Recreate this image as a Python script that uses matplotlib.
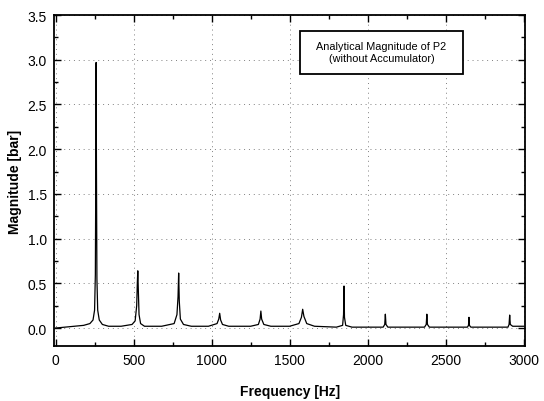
import matplotlib.pyplot as plt
from matplotlib.patches import Rectangle
from matplotlib.ticker import MultipleLocator

# harmonic peaks
PEAK_FREQ = [260, 527, 789, 1052, 1316, 1584, 1849, 2114, 2380, 2650, 2911]
PEAK_MAG = [2.97, 0.64, 0.615, 0.165, 0.19, 0.21, 0.47, 0.155, 0.155, 0.12, 0.145]

# traced spectrum, point by point (Hz, bar)
FREQ = [0, 60, 120, 180, 220, 240, 250, 255, 258, 260, 262, 265, 270, 280, 300, 340,
        420, 490, 510, 520, 524, 527, 530, 535, 545, 570,
        680, 760, 778, 785, 789, 793, 800, 820, 870,
        980, 1035, 1046, 1052, 1058, 1070, 1110,
        1250, 1300, 1311, 1316, 1321, 1335, 1380,
        1500, 1560, 1576, 1584, 1592, 1610, 1660,
        1800, 1840, 1846, 1849, 1852, 1860, 1900,
        2100, 2110, 2114, 2118, 2130,
        2365, 2376, 2380, 2384, 2396,
        2640, 2647, 2650, 2653, 2662,
        2900, 2907, 2911, 2915, 2930, 3000]
MAG = [0.0, 0.01, 0.02, 0.03, 0.05, 0.09, 0.2, 0.6, 1.8, 2.97, 1.8, 0.55, 0.2, 0.09, 0.04, 0.02,
       0.02, 0.04, 0.08, 0.25, 0.5, 0.64, 0.45, 0.15, 0.05, 0.02,
       0.02, 0.05, 0.15, 0.35, 0.615, 0.3, 0.1, 0.04, 0.02,
       0.02, 0.05, 0.1, 0.165, 0.09, 0.04, 0.02,
       0.02, 0.04, 0.1, 0.19, 0.1, 0.04, 0.02,
       0.02, 0.05, 0.12, 0.21, 0.13, 0.05, 0.02,
       0.01, 0.03, 0.15, 0.47, 0.12, 0.03, 0.01,
       0.01, 0.04, 0.155, 0.04, 0.01,
       0.01, 0.04, 0.155, 0.04, 0.01,
       0.01, 0.03, 0.12, 0.03, 0.01,
       0.01, 0.04, 0.145, 0.04, 0.02, 0.02]

XTICKS = [0, 500, 1000, 1500, 2000, 2500, 3000]
YTICKS = [0.0, 0.5, 1.0, 1.5, 2.0, 2.5, 3.0, 3.5]

plt.rcParams['font.family'] = ['Liberation Sans', 'DejaVu Sans']

fig = plt.figure(figsize=(5.44, 4.02), dpi=100)
ax = fig.add_axes([0.0993, 0.137, 0.866, 0.823])

ax.plot(FREQ, MAG, color='black', lw=0.9)

ax.set_xlim(-10, 3010)
ax.set_ylim(-0.2, 3.5)
ax.set_xticks(XTICKS)
ax.set_yticks(YTICKS)
ax.set_yticklabels([f"{v:.1f}" for v in YTICKS])
ax.xaxis.set_minor_locator(MultipleLocator(250))
ax.yaxis.set_minor_locator(MultipleLocator(0.25))
ax.tick_params(which='both', direction='in', top=True, right=True, labelsize=10, width=1.0)
ax.tick_params(which='major', length=5, pad=5)
ax.tick_params(which='minor', length=3)
for s in ax.spines.values():
    s.set_linewidth(1.3)

ax.grid(True, which='major', color='gray', linestyle=(0, (1, 4)), lw=0.7)

ax.set_xlabel('Frequency [Hz]', fontsize=10, fontweight='bold', labelpad=12)
ax.set_ylabel('Magnitude [bar]', fontsize=10, fontweight='bold', labelpad=4)

# legend-like note box
ax.add_patch(Rectangle((0.522, 0.822), 0.346, 0.130, transform=ax.transAxes,
                       facecolor='white', edgecolor='black', lw=1.3, zorder=5))
ax.text(0.695, 0.887, 'Analytical Magnitude of P2\n(without Accumulator)',
        transform=ax.transAxes, ha='center', va='center', fontsize=7.8,
        linespacing=1.25, zorder=6)

fig.savefig('out.png', dpi=100)
